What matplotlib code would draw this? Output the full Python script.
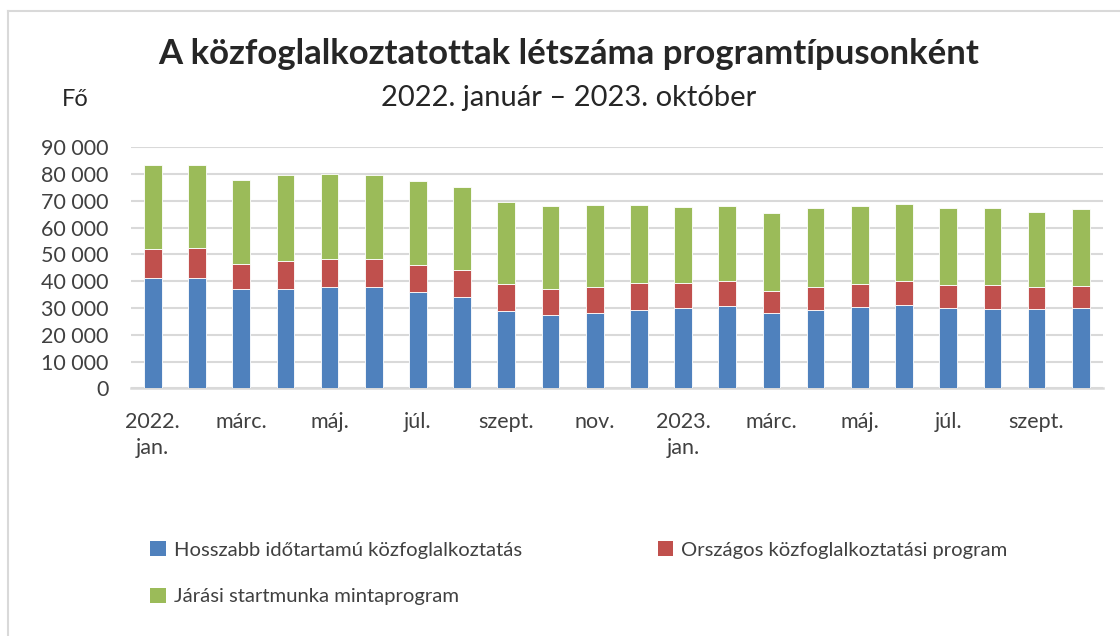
import matplotlib
matplotlib.use('Agg')
import matplotlib.pyplot as plt
from matplotlib.ticker import FuncFormatter, FixedLocator
from matplotlib.patches import Patch
from matplotlib.lines import Line2D
import numpy as np

# Data (persons, monthly)
months = ['2022.\njan.', 'febr.', 'márc.', 'ápr.', 'máj.', 'jún.', 'júl.', 'aug.',
          'szept.', 'okt.', 'nov.', 'dec.',
          '2023.\njan.', 'febr.', 'márc.', 'ápr.', 'máj.', 'jún.', 'júl.', 'aug.',
          'szept.', 'okt.']
hosszabb = [41200, 41100, 37000, 37200, 38000, 37700, 35900, 34200, 28800, 27300, 28000,
            29100, 30100, 30600, 28100, 29400, 30400, 31100, 29900, 29600, 29500, 29900]
orszagos = [11000, 11300, 9600, 10500, 10400, 10400, 10300, 10100, 10200, 9900, 10000,
            10300, 9400, 9600, 8400, 8600, 8700, 8800, 8800, 8900, 8200, 8200]
jarasi = [31200, 30900, 31100, 31800, 31800, 31600, 31300, 31000, 30700, 30800, 30400,
          29100, 28200, 27900, 28800, 29200, 29000, 29100, 28800, 28700, 28300, 28700]
series_names = ['Hosszabb időtartamú közfoglalkoztatás',
                'Országos közfoglalkoztatási program',
                'Járási startmunka mintaprogram']
colors = ('#4F81BD', '#C0504D', '#9BBB59')

plt.rcParams['font.family'] = ['Lato', 'DejaVu Sans']
txt_col = '#404040'
grid_col = '#d9d9d9'

fig = plt.figure(figsize=(11.2, 6.36), dpi=100)
ax = fig.add_axes([0.1167, 0.3895, 0.868, 0.3789])

x = np.arange(len(months))
bottom = np.zeros(len(months))
for vals, col, name in zip((hosszabb, orszagos, jarasi), colors, series_names):
    ax.bar(x, vals, width=0.4, bottom=bottom, color=col, edgecolor='white',
           linewidth=0.6, label=name, zorder=3)
    bottom += np.array(vals)

ax.set_xlim(-0.5, len(months) - 0.5)
ax.set_ylim(0, 90000)
ax.yaxis.set_major_locator(FixedLocator(np.arange(0, 90001, 10000)))
ax.yaxis.set_major_formatter(FuncFormatter(lambda v, p: f'{int(v):,}'.replace(',', ' ')))
ax.set_xticks(x[::2])
ax.set_xticklabels(months[::2], linespacing=1.4)
ax.grid(axis='y', color=grid_col, linewidth=1.5, zorder=0)
for s in ('top', 'right', 'left'):
    ax.spines[s].set_visible(False)
ax.spines['bottom'].set_color(grid_col)
ax.spines['bottom'].set_linewidth(1.8)
ax.tick_params(axis='both', length=0, labelsize=15.5, colors=txt_col)
ax.tick_params(axis='y', pad=16)
ax.tick_params(axis='x', pad=17)

fig.text(0.508, 0.915, 'A közfoglalkoztatottak létszáma programtípusonként',
         ha='center', va='center', fontsize=25, fontweight='bold', color='#262626')
fig.text(0.508, 0.846, '2022. január – 2023. október', ha='center', va='center',
         fontsize=21, color='#262626')
fig.text(0.055, 0.843, 'Fő', ha='left', va='center', fontsize=17, color='#262626')

# legend: two entries on first row, third below
h = [Patch(facecolor=c) for c in colors]
order = [0, 2, 1]
fig.legend([h[i] for i in order], [series_names[i] for i in order], ncol=2,
           loc='upper left', bbox_to_anchor=(0.118, 0.178), frameon=False,
           fontsize=14.6, labelcolor=txt_col, handlelength=0.75, handleheight=0.75,
           handletextpad=0.4, columnspacing=6.7, labelspacing=1.45)

# chart area frame (cut off at right and bottom)
fig.add_artist(Line2D([7.5 / 1120, 1], [1 - 10.5 / 636] * 2, transform=fig.transFigure,
                      color=grid_col, linewidth=1.5))
fig.add_artist(Line2D([7.5 / 1120] * 2, [0, 1 - 10.5 / 636], transform=fig.transFigure,
                      color=grid_col, linewidth=1.5))

fig.savefig('out.png', dpi=100)
